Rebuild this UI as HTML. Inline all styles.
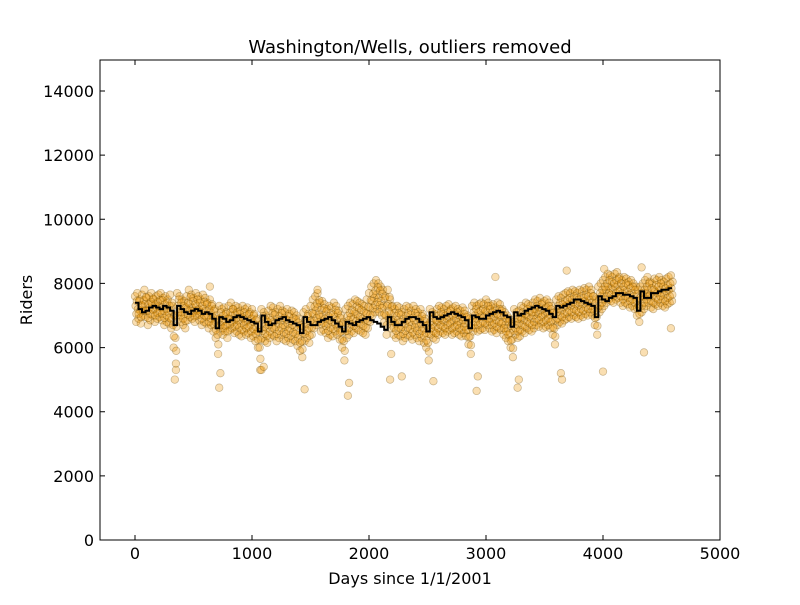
<!DOCTYPE html>
<html><head><meta charset="utf-8"><style>
body{margin:0;background:#fff;}
svg text{font-family:"DejaVu Sans","Liberation Sans",sans-serif;}
</style></head><body>
<svg id="chart" width="800" height="600" xmlns="http://www.w3.org/2000/svg">
<rect width="800" height="600" fill="#fff"/>
<g id="pts"></g>
<path id="stepline" fill="none" stroke="#000" stroke-width="2"/>
<rect x="100" y="60" width="620" height="480" fill="none" stroke="#000" stroke-width="1"/>
<g id="axes"></g>
<text x="410" y="53" text-anchor="middle" font-size="18">Washington/Wells, outliers removed</text>
<text x="410" y="584" text-anchor="middle" font-size="16">Days since 1/1/2001</text>
<text transform="translate(32,300) rotate(-90)" text-anchor="middle" font-size="16">Riders</text>
</svg>
<script>
const xTicks=[0,1000,2000,3000,4000,5000];
const yTicks=[0,2000,4000,6000,8000,10000,12000,14000];
const dayStep=20;
const hi=[7600,7700,7500,7650,7800,7550,7600,7700,7500,7600,7650,7700,7550,7600,7500,7650,7300,7000,
7700,7600,7500,7450,7600,7800,7650,7550,7700,7600,7500,7650,7550,7400,7500,7350,7200,6900,
7300,7200,7250,7100,7300,7400,7200,7300,7250,7150,7300,7200,7250,7100,7200,7050,6900,6500,
7200,7100,7000,7150,7300,7250,7100,7200,7300,7150,7100,7200,7050,7150,7100,7000,6900,6700,
7100,7200,7050,7300,7500,7600,7700,7400,7450,7350,7200,7300,7250,7400,7300,7150,7000,6800,
7200,7300,7400,7350,7500,7450,7400,7350,7300,7500,7700,7900,8000,8100,8000,7900,7800,7600,
7800,7500,7300,7200,7300,7250,7100,7200,7300,7250,7150,7300,7200,7100,7200,7050,6900,6700,
7200,7100,7050,7200,7300,7250,7200,7300,7350,7200,7250,7300,7200,7150,7250,7150,7000,6900,
7300,7400,7300,7350,7400,7350,7500,7400,7300,7350,7250,7400,7350,7200,7100,7000,6900,6800,
7200,7100,7150,7300,7250,7400,7350,7300,7400,7500,7450,7550,7400,7450,7500,7400,7300,7100,
7500,7600,7550,7650,7700,7750,7700,7800,7750,7700,7800,7750,7850,7800,7900,7800,7600,7500,
7900,8000,8100,8200,8300,8250,8200,8300,8350,8200,8100,8200,8150,8050,8100,8000,7900,7800,
7900,8000,8100,8200,8050,8000,8150,8100,8200,8100,8050,8150,8200,8250];
const lo=[6800,6900,6750,7000,6950,6700,6850,7000,6800,6900,6950,6850,6700,6800,6750,6600,6000,5500,
6900,6800,6700,6600,6850,6950,6900,6800,7000,6850,6700,6800,6750,6600,6700,6500,6300,5800,
6500,6400,6500,6300,6550,6600,6450,6500,6400,6350,6500,6400,6450,6300,6350,6200,6000,5300,
6300,6200,6150,6300,6400,6350,6200,6300,6400,6250,6200,6300,6150,6250,6200,6050,5900,5700,
6200,6300,6150,6400,6600,6700,6800,6500,6550,6450,6300,6400,6350,6500,6400,6250,6000,5600,
6300,6400,6500,6450,6600,6550,6500,6450,6400,6600,6800,7000,7100,7200,7100,7000,6800,6400,
6900,6600,6400,6300,6400,6350,6200,6300,6400,6350,6250,6400,6300,6200,6300,6150,6000,5600,
6400,6300,6250,6400,6500,6450,6400,6500,6550,6400,6450,6500,6400,6350,6450,6350,6100,5800,
6500,6600,6500,6550,6600,6550,6700,6600,6500,6550,6450,6600,6550,6400,6300,6200,6000,5700,
6400,6300,6350,6500,6450,6600,6550,6500,6600,6700,6650,6750,6600,6650,6700,6600,6400,6100,
6700,6800,6750,6850,6900,6950,6900,7000,6950,6900,7000,6950,7050,7000,7100,7000,6700,6400,
7100,7200,7300,7400,7500,7450,7400,7500,7550,7400,7300,7400,7350,7250,7300,7200,7000,6800,
7100,7200,7300,7400,7250,7200,7350,7300,7400,7300,7250,7350,7400,7450];
const midVals=[7300,7200,7150,7300,7350,7150,7250,7350,7200,7250,7300,7250,7150,7200,7100,7150,6700,6300,
7300,7200,7100,7050,7200,7350,7250,7150,7300,7200,7100,7200,7150,7000,7100,6950,6800,6400,
6900,6800,6850,6700,6900,7000,6850,6900,6850,6750,6900,6800,6850,6700,6800,6650,6500,6000,
6750,6650,6600,6700,6850,6800,6650,6750,6850,6700,6650,6750,6600,6700,6650,6550,6400,6200,
6650,6750,6600,6850,7050,7150,7250,6950,7000,6900,6750,6850,6800,6950,6850,6700,6500,6200,
6750,6850,6950,6900,7050,7000,6950,6900,6850,7050,7250,7450,7550,7650,7550,7450,7300,7000,
7350,7050,6850,6750,6850,6800,6650,6750,6850,6800,6700,6850,6750,6650,6750,6600,6450,6150,
6800,6700,6650,6800,6900,6850,6800,6900,6950,6800,6850,6900,6800,6750,6850,6750,6550,6350,
6900,7000,6900,6950,7000,6950,7100,7000,6900,6950,6850,7000,6950,6800,6700,6600,6450,6250,
6800,6700,6750,6900,6850,7000,6950,6900,7000,7100,7050,7150,7000,7050,7100,7000,6850,6600,
7100,7200,7150,7250,7300,7350,7300,7400,7350,7300,7400,7350,7450,7400,7500,7400,7150,6950,
7500,7600,7700,7800,7900,7850,7800,7900,7950,7800,7700,7800,7750,7650,7700,7600,7450,7300,
7500,7600,7700,7800,7650,7600,7750,7700,7800,7700,7650,7750,7800,7850];
const outDays=[340,350,720,730,1080,1100,1450,1820,1830,2180,2190,2280,2550,2920,2930,3270,3280,3640,3650,4000,4350,4580,640,1560,3080,3690,4010,4330];
const outVals=[5000,5300,4750,5200,5300,5400,4700,4500,4900,5000,5800,5100,4950,4650,5100,4750,5000,5200,5000,5250,5850,6600,7900,7800,8200,8400,8450,8500];
const stepDays=30;
const stepVals=[7400,7200,7100,7150,7250,7300,7250,7200,7300,7250,7150,6700,
7300,7200,7100,7050,7150,7200,7150,7050,7100,7050,6900,6600,
6950,6900,6800,6850,6950,7000,6950,6900,6850,6800,6750,6500,
7000,6800,6700,6750,6850,6900,6950,6850,6800,6750,6700,6450,
6950,6800,6700,6700,6800,6850,6900,6950,6850,6750,6650,6500,
6800,6750,6700,6800,6850,6900,6950,6850,6800,6750,6650,6550,
6950,6800,6700,6700,6800,6900,6950,6950,6900,6800,6700,6500,
7100,6950,6900,6950,7000,7050,7100,7050,7000,6950,6850,6600,
7000,6950,6900,6900,7000,7050,7100,7150,7100,7000,6950,6650,
7100,7000,7050,7150,7200,7250,7300,7250,7200,7150,7050,6950,
7300,7250,7300,7350,7400,7500,7500,7450,7400,7350,7300,6950,
7600,7500,7450,7550,7600,7700,7700,7650,7650,7600,7550,7150,
7750,7550,7550,7700,7700,7750,7800,7800,7850];

const X=d=>135+d*0.117;
const Y=v=>540-v*0.032071;
const NS="http://www.w3.org/2000/svg";
const pts=document.getElementById('pts');
function dot(d,v){
  const c=document.createElementNS(NS,'circle');
  
  
  c.setAttribute('cx',X(d).toFixed(1));c.setAttribute('cy',Y(v).toFixed(1));c.setAttribute('r',3.8);
  c.setAttribute('fill','rgba(240,150,0,0.3)');c.setAttribute('stroke','rgba(100,70,0,0.35)');c.setAttribute('stroke-width','0.7');
  pts.appendChild(c);
}
hi.forEach((v,i)=>dot(i*dayStep,v));
lo.forEach((v,i)=>dot(i*dayStep+10,v));
midVals.forEach((v,i)=>dot(i*dayStep+5,v));
midVals.forEach((v,i)=>dot(i*dayStep+15,(v+hi[i])/2));
midVals.forEach((v,i)=>dot(i*dayStep+12,(v+lo[i])/2));
outDays.forEach((d,i)=>dot(d,outVals[i]));
let p='';
stepVals.forEach((v,i)=>{const x0=X(i*stepDays),x1=X(Math.min((i+1)*stepDays,4590));p+=(i?'L':'M')+x0.toFixed(1)+','+Y(v).toFixed(1)+'L'+x1.toFixed(1)+','+Y(v).toFixed(1);});
document.getElementById('stepline').setAttribute('d',p);
const ax=document.getElementById('axes');
xTicks.forEach(t=>{
  const l=document.createElementNS(NS,'path');
  
  
  l.setAttribute('d',`M${X(t)},540v-5M${X(t)},60v5`);l.setAttribute('stroke','#000');ax.appendChild(l);
  const tx=document.createElementNS(NS,'text');
  
  
  tx.setAttribute('x',X(t));tx.setAttribute('y',559);tx.setAttribute('text-anchor','middle');tx.setAttribute('font-size','16');tx.textContent=t;ax.appendChild(tx);
});
yTicks.forEach(t=>{
  const l=document.createElementNS(NS,'path');
  
  
  l.setAttribute('d',`M100,${Y(t)}h5M720,${Y(t)}h-5`);l.setAttribute('stroke','#000');ax.appendChild(l);
  const tx=document.createElementNS(NS,'text');
  
  
  tx.setAttribute('x',94);tx.setAttribute('y',Y(t)+6);tx.setAttribute('text-anchor','end');tx.setAttribute('font-size','16');tx.textContent=t;ax.appendChild(tx);
});
</script>
</body></html>
